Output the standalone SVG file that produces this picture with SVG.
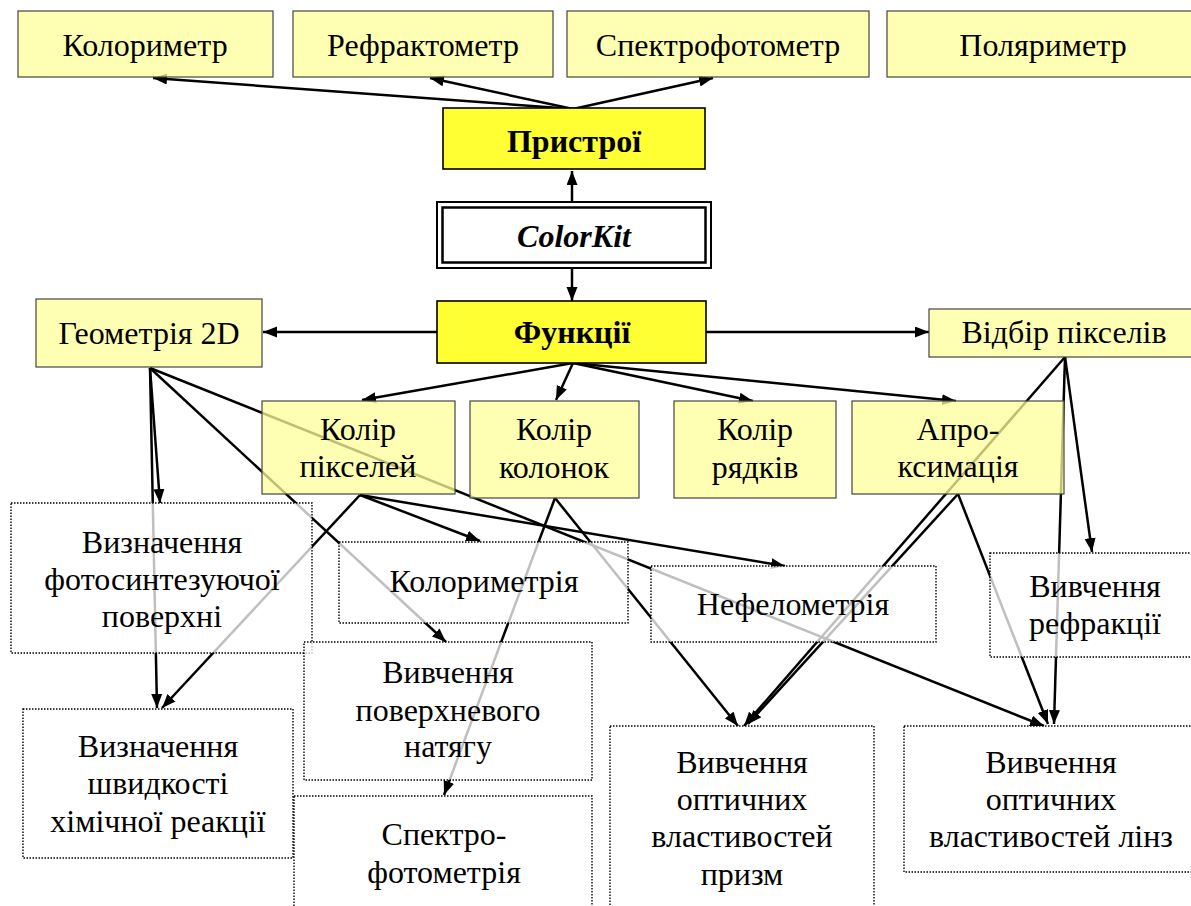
<svg xmlns="http://www.w3.org/2000/svg" width="1191" height="906" viewBox="0 0 1191 906">
<defs>
<marker id="ah" markerUnits="userSpaceOnUse" markerWidth="16" markerHeight="12" refX="14" refY="5.5" orient="auto">
<path d="M0,0 L14,5.5 L0,11 z" fill="#000"/>
</marker>
<style>
.c line{stroke:#000;stroke-width:2.5;marker-end:url(#ah)}
.py{fill:#ffff99;fill-opacity:0.75;stroke:#444;stroke-width:1.2}
.by{fill:#ffff33;stroke:#000;stroke-width:1.6}
.dw{fill:#fff;fill-opacity:0.75;stroke:#000;stroke-width:1.4;stroke-dasharray:1.5 1.5}
.t text{font-size:32px;fill:#000;text-anchor:middle}
.b{font-weight:bold}
.bi{font-weight:bold;font-style:italic}
</style>
</defs>
<rect width="1191" height="906" fill="#fff"/>
<g id="connectors" class="c">
<line x1="573" y1="109" x2="153" y2="78"/>
<line x1="573" y1="109" x2="430" y2="78"/>
<line x1="573" y1="109" x2="713" y2="78"/>
<line x1="572" y1="201" x2="572" y2="171"/>
<line x1="572" y1="269" x2="572" y2="301"/>
<line x1="437" y1="332" x2="263" y2="332"/>
<line x1="706" y1="332" x2="929" y2="332"/>
<line x1="573" y1="363" x2="362" y2="400"/>
<line x1="573" y1="363" x2="556" y2="400"/>
<line x1="573" y1="363" x2="753" y2="401"/>
<line x1="573" y1="363" x2="956" y2="401"/>
<line x1="150" y1="368" x2="160" y2="503"/>
<line x1="150" y1="368" x2="157" y2="708"/>
<line x1="150" y1="368" x2="446" y2="642"/>
<line x1="150" y1="368" x2="1044" y2="726"/>
<line x1="360" y1="495" x2="480" y2="541"/>
<line x1="360" y1="495" x2="785" y2="566"/>
<line x1="360" y1="495" x2="162" y2="708"/>
<line x1="555" y1="498" x2="738" y2="726"/>
<line x1="555" y1="498" x2="444" y2="795"/>
<line x1="958" y1="494" x2="748" y2="724"/>
<line x1="1065" y1="357" x2="744" y2="726"/>
<line x1="958" y1="494" x2="1048" y2="724"/>
<line x1="1065" y1="357" x2="1092" y2="552"/>
<line x1="1065" y1="357" x2="1054" y2="724"/>
</g>
<g class="t" font-family="'Liberation Serif', 'Times New Roman', 'DejaVu Serif', serif">
<g id="kolorymetr"><rect class="py" x="18" y="11" width="255" height="66"/><text x="145" y="56">Колориметр</text></g>
<g id="refraktometr"><rect class="py" x="293" y="11" width="260" height="66"/><text x="423" y="56">Рефрактометр</text></g>
<g id="spektrofotometr"><rect class="py" x="567" y="11" width="302" height="66"/><text x="718" y="56">Спектрофотометр</text></g>
<g id="polyarymetr"><rect class="py" x="887" y="11" width="312" height="66"/><text x="1043" y="56">Поляриметр</text></g>
<g id="prystroi"><rect class="by" x="443" y="108" width="262" height="61"/><text class="b" x="574" y="152">Пристрої</text></g>
<g id="colorkit"><rect x="437" y="202" width="274" height="66" fill="#fff" stroke="#000" stroke-width="2"/><rect x="442.5" y="207.5" width="263" height="55" fill="none" stroke="#000" stroke-width="2.5"/><text class="bi" x="574" y="247">ColorKit</text></g>
<g id="funktsii"><rect class="by" x="437" y="301" width="269" height="62"/><text class="b" x="572" y="343">Функції</text></g>
<g id="geometriya"><rect class="py" x="36" y="299" width="226" height="68"/><text x="149" y="344">Геометрія 2D</text></g>
<g id="vidbir"><rect class="py" x="929" y="309" width="270" height="48"/><text x="1064" y="343">Відбір пікселів</text></g>
<g id="kolir-pikseley"><rect class="py" x="262" y="401" width="193" height="93"/><text x="358" y="440">Колір</text><text x="358" y="477">пікселей</text></g>
<g id="kolir-kolonok"><rect class="py" x="470" y="401" width="169" height="97"/><text x="554" y="440">Колір</text><text x="554" y="478">колонок</text></g>
<g id="kolir-ryadkiv"><rect class="py" x="674" y="401" width="162" height="97"/><text x="755" y="440">Колір</text><text x="755" y="478">рядків</text></g>
<g id="aproksymatsiya"><rect class="py" x="852" y="401" width="212" height="93"/><text x="958" y="440">Апро-</text><text x="958" y="477">ксимація</text></g>
<g id="fotosyntez"><rect class="dw" x="11" y="503" width="301" height="150"/><text x="162" y="553">Визначення</text><text x="162" y="590">фотосинтезуючої</text><text x="162" y="627">поверхні</text></g>
<g id="kolorymetriya"><rect class="dw" x="339" y="542" width="289" height="81"/><text x="484" y="592">Колориметрія</text></g>
<g id="nefelometriya"><rect class="dw" x="651" y="566" width="285" height="76"/><text x="793" y="615">Нефелометрія</text></g>
<g id="refraktsiya"><rect class="dw" x="990" y="553" width="210" height="104"/><text x="1095" y="597">Вивчення</text><text x="1095" y="634">рефракції</text></g>
<g id="poverkhnevyi"><rect class="dw" x="304" y="642" width="288" height="138"/><text x="448" y="683">Вивчення</text><text x="448" y="721">поверхневого</text><text x="448" y="757">натягу</text></g>
<g id="shvydkist"><rect class="dw" x="23" y="709" width="270" height="149"/><text x="158" y="757">Визначення</text><text x="158" y="794">швидкості</text><text x="158" y="832">хімічної реакції</text></g>
<g id="spektrofotometriya"><rect class="dw" x="294" y="796" width="298" height="120"/><text x="444" y="845">Спектро-</text><text x="444" y="883">фотометрія</text></g>
<g id="pryzmy"><rect class="dw" x="610" y="726" width="264" height="190"/><text x="742" y="773">Вивчення</text><text x="742" y="810">оптичних</text><text x="742" y="847">властивостей</text><text x="742" y="885">призм</text></g>
<g id="linzy"><rect class="dw" x="904" y="726" width="296" height="146"/><text x="1051" y="773">Вивчення</text><text x="1051" y="810">оптичних</text><text x="1051" y="847">властивостей лінз</text></g>
</g>
</svg>
